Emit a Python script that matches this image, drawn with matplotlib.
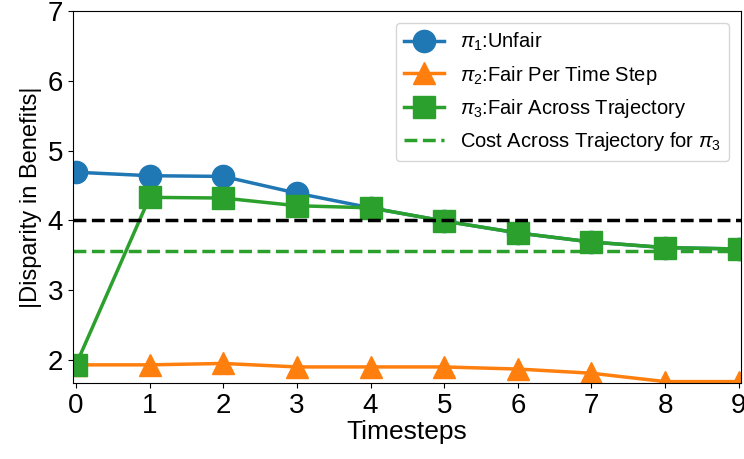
import matplotlib
matplotlib.use("Agg")
import matplotlib.pyplot as plt

plt.rcParams['font.family'] = ['Liberation Sans', 'DejaVu Sans']
plt.rcParams['mathtext.fontset'] = 'custom'
plt.rcParams['mathtext.rm'] = 'Liberation Sans'
plt.rcParams['mathtext.it'] = 'Liberation Sans:italic'
plt.rcParams['mathtext.bf'] = 'Liberation Sans:bold'

timesteps = [0, 1, 2, 3, 4, 5, 6, 7, 8, 9]
pi1_unfair = [4.69, 4.64, 4.63, 4.39, 4.18, 3.99, 3.82, 3.69, 3.61, 3.59]
pi2_fair_step = [1.93, 1.93, 1.95, 1.90, 1.90, 1.90, 1.87, 1.81, 1.69, 1.69]
pi3_fair_traj = [1.93, 4.33, 4.32, 4.21, 4.18, 3.99, 3.82, 3.69, 3.61, 3.59]
threshold = 4.0
cost_pi3 = 3.56

fig = plt.figure(figsize=(7.44, 4.59), dpi=100)
ax = fig.add_axes([73/744, 1 - 383/459, (741-73)/744, (383-11)/459])

ax.plot(timesteps, pi1_unfair, '-o', color='#1f77b4', lw=2.5, ms=16, label=r'$\pi_1$:Unfair')
ax.plot(timesteps, pi2_fair_step, '-^', color='#ff7f0e', lw=2.5, ms=16, label=r'$\pi_2$:Fair Per Time Step')
ax.plot(timesteps, pi3_fair_traj, '-s', color='#2ca02c', lw=2.5, ms=16, label=r'$\pi_3$:Fair Across Trajectory')
ax.axhline(threshold, color='black', ls='--', lw=2.5)
ax.axhline(cost_pi3, color='#2ca02c', ls='--', lw=2.5, label=r'Cost Across Trajectory for $\pi_3$')

ax.set_xlim(-0.04, 9.03)
ax.set_ylim(1.67, 7)
ax.set_xticks(timesteps)
ax.set_yticks([2, 3, 4, 5, 6, 7])
ax.tick_params(labelsize=20)
ax.set_xlabel('Timesteps', fontsize=19, labelpad=1)
ax.set_ylabel('|Disparity in Benefits|', fontsize=17, labelpad=4)
ax.legend(loc='upper right', fontsize=14.5, borderaxespad=0.6)

fig.savefig('out.png', dpi=100)
